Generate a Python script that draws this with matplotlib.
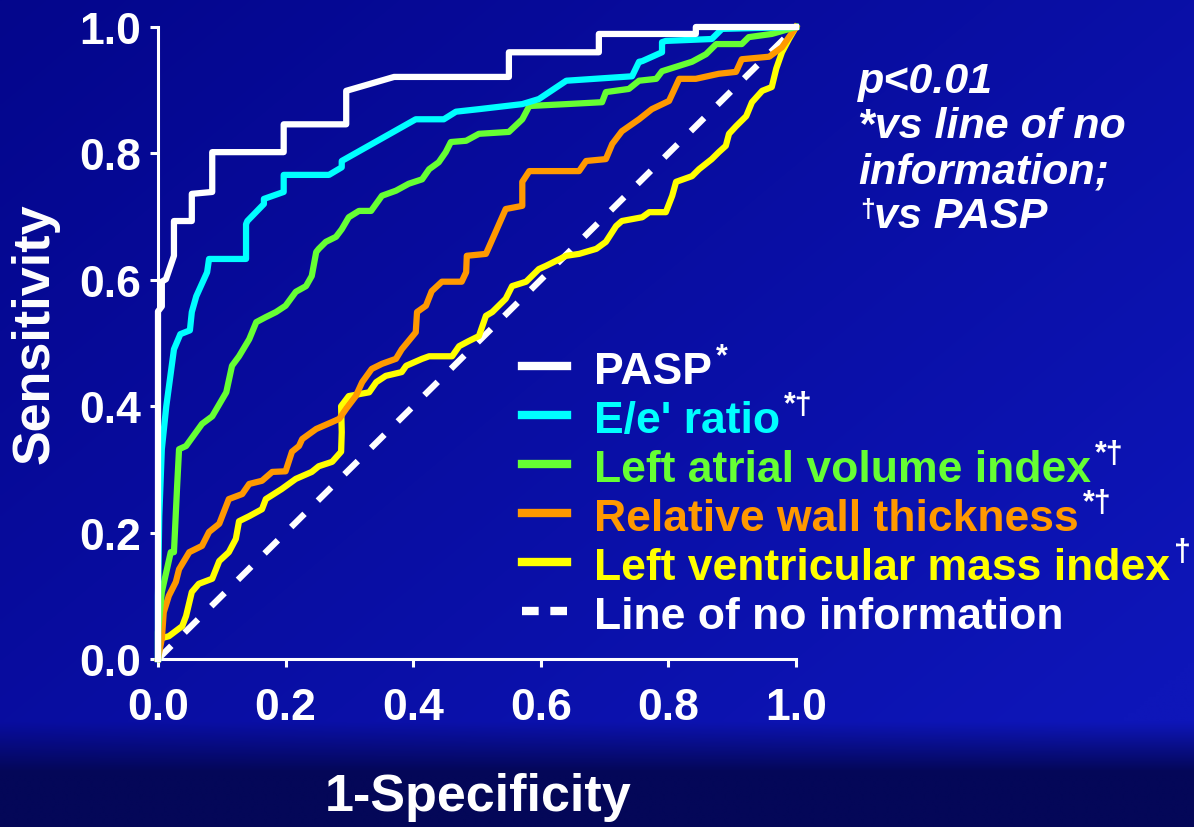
import numpy as np
import matplotlib
matplotlib.use("Agg")
import matplotlib.pyplot as plt
from matplotlib.lines import Line2D

plt.rcParams['font.family'] = ['Liberation Sans', 'DejaVu Sans']
plt.rcParams['font.weight'] = 'bold'

# ROC curves (1-specificity, sensitivity)
pasp_x = [0, 0, 0.006, 0.006, 0.0125, 0.025, 0.025, 0.053, 0.053, 0.085, 0.085, 0.197, 0.197,
          0.295, 0.295, 0.37, 0.503, 0.55, 0.55, 0.691, 0.691, 0.843, 0.843, 1.0]
pasp_y = [0, 0.55, 0.558, 0.597, 0.601, 0.638, 0.693, 0.693, 0.736, 0.739, 0.802, 0.802, 0.846,
          0.846, 0.899, 0.921, 0.921, 0.921, 0.96, 0.96, 0.989, 0.989, 1.0, 1.0]

ee_x = [0, 0.0, 0.002, 0.006, 0.013, 0.025, 0.035, 0.05, 0.053, 0.06, 0.077, 0.08, 0.138, 0.138,
        0.14, 0.166, 0.166, 0.197, 0.197, 0.268, 0.288, 0.288, 0.404, 0.448, 0.467, 0.503, 0.571,
        0.597, 0.64, 0.743, 0.754, 0.759, 0.79, 0.79, 0.796, 0.868, 0.884, 1.0]
ee_y = [0, 0.1, 0.226, 0.332, 0.40, 0.49, 0.514, 0.52, 0.549, 0.574, 0.612, 0.633, 0.633, 0.688,
        0.693, 0.72, 0.728, 0.739, 0.766, 0.766, 0.778, 0.788, 0.854, 0.854, 0.866, 0.870, 0.878,
        0.886, 0.915, 0.922, 0.945, 0.946, 0.96, 0.976, 0.978, 0.981, 0.997, 1.0]

lavi_x = [0, 0, 0.006, 0.02, 0.025, 0.03, 0.033, 0.044, 0.069, 0.085, 0.107, 0.116, 0.127, 0.143,
          0.154, 0.169, 0.185, 0.2, 0.216, 0.232, 0.241, 0.248, 0.252, 0.263, 0.279, 0.288, 0.299,
          0.315, 0.334, 0.351, 0.373, 0.393, 0.414, 0.425, 0.44, 0.451, 0.459, 0.483, 0.503, 0.55,
          0.571, 0.582, 0.64, 0.696, 0.702, 0.738, 0.754, 0.781, 0.79, 0.837, 0.859, 0.875, 0.915,
          0.926, 0.962, 1.0]
lavi_y = [0, 0.043, 0.106, 0.169, 0.169, 0.274, 0.332, 0.337, 0.372, 0.384, 0.422, 0.464, 0.479,
          0.506, 0.533, 0.541, 0.549, 0.559, 0.581, 0.59, 0.606, 0.644, 0.649, 0.66, 0.668, 0.68,
          0.699, 0.709, 0.709, 0.733, 0.741, 0.752, 0.759, 0.775, 0.786, 0.802, 0.818, 0.82, 0.831,
          0.834, 0.854, 0.875, 0.878, 0.881, 0.897, 0.902, 0.915, 0.918, 0.93, 0.945, 0.957, 0.973,
          0.973, 0.984, 0.989, 1.0]

rwt_x = [0, 0.006, 0.009, 0.017, 0.028, 0.033, 0.049, 0.069, 0.08, 0.096, 0.111, 0.132, 0.143,
         0.163, 0.179, 0.2, 0.21, 0.221, 0.226, 0.248, 0.273, 0.284, 0.295, 0.31, 0.32, 0.335,
         0.351, 0.373, 0.382, 0.404, 0.406, 0.42, 0.429, 0.445, 0.476, 0.483, 0.484, 0.514, 0.545,
         0.571, 0.571, 0.582, 0.66, 0.671, 0.702, 0.712, 0.727, 0.754, 0.774, 0.801, 0.817, 0.843,
         0.879, 0.906, 0.915, 0.958, 0.978, 1.0]
rwt_y = [0, 0.032, 0.074, 0.1, 0.122, 0.142, 0.169, 0.179, 0.201, 0.214, 0.253, 0.261, 0.277,
         0.282, 0.296, 0.297, 0.328, 0.337, 0.348, 0.364, 0.375, 0.38, 0.396, 0.416, 0.438, 0.459,
         0.467, 0.475, 0.49, 0.517, 0.549, 0.559, 0.582, 0.597, 0.597, 0.612, 0.638, 0.641, 0.712,
         0.717, 0.755, 0.772, 0.772, 0.788, 0.791, 0.815, 0.835, 0.854, 0.870, 0.883, 0.918, 0.918,
         0.926, 0.929, 0.949, 0.953, 0.968, 1.0]

lvmi_x = [0, 0.002, 0.017, 0.038, 0.044, 0.053, 0.064, 0.085, 0.096, 0.111, 0.122, 0.127, 0.143,
          0.163, 0.169, 0.194, 0.216, 0.241, 0.252, 0.273, 0.287, 0.288, 0.287, 0.299, 0.331, 0.342,
          0.357, 0.382, 0.389, 0.414, 0.425, 0.461, 0.472, 0.487, 0.503, 0.514, 0.524, 0.545, 0.555,
          0.577, 0.597, 0.608, 0.64, 0.66, 0.687, 0.702, 0.718, 0.727, 0.759, 0.77, 0.796, 0.806,
          0.812, 0.837, 0.848, 0.868, 0.879, 0.89, 0.895, 0.906, 0.922, 0.931, 0.947, 0.962, 0.969,
          0.978, 0.989, 1.0]
lvmi_y = [0, 0.032, 0.036, 0.052, 0.068, 0.106, 0.119, 0.127, 0.155, 0.169, 0.19, 0.218, 0.226,
          0.237, 0.253, 0.269, 0.285, 0.296, 0.305, 0.312, 0.328, 0.359, 0.40, 0.416, 0.422, 0.438,
          0.448, 0.454, 0.464, 0.475, 0.479, 0.479, 0.495, 0.503, 0.511, 0.543, 0.549, 0.57, 0.59,
          0.597, 0.617, 0.622, 0.638, 0.641, 0.649, 0.66, 0.685, 0.693, 0.699, 0.707, 0.707, 0.733,
          0.755, 0.764, 0.775, 0.791, 0.802, 0.812, 0.831, 0.843, 0.859, 0.881, 0.899, 0.905, 0.934,
          0.96, 0.981, 1.0]

names = ['PASP', "E/e' ratio", 'Left atrial volume index', 'Relative wall thickness',
         'Left ventricular mass index', 'Line of no information']
marks = ['*', '*†', '*†', '*†', '†', '']
colors = ['white', '#00ffff', '#66ff33', '#ff9900', '#ffff00', 'white']
curves = [(pasp_x, pasp_y), (ee_x, ee_y), (lavi_x, lavi_y), (rwt_x, rwt_y), (lvmi_x, lvmi_y)]
ticks = [0.0, 0.2, 0.4, 0.6, 0.8, 1.0]

W, H = 1194, 828
fig = plt.figure(figsize=(W / 100, H / 100), dpi=100)

# blue slide background
bg = fig.add_axes([0, 0, 1, 1], zorder=-10)
gx = np.linspace(0, 1, 300)[None, :]
gy = np.linspace(0, 1, 200)[:, None]
top = np.array([4, 6, 140]) / 255
right = np.array([14, 22, 185]) / 255
r = np.clip(0.6 * gx + 0.5 * gy, 0, 1)[..., None]
img = top * (1 - r) + right * r
dark = np.array([4, 7, 88]) / 255
band = np.clip((gy - 0.875) / 0.06, 0, 1)[..., None]
img = img * (1 - band) + dark * band
bg.imshow(img, aspect='auto', extent=[0, 1, 1, 0], interpolation='bilinear')
bg.axis('off')

ax = fig.add_axes([158 / W, 1 - 660 / H, 638 / W, 632 / H])
ax.set_facecolor('none')

ax.plot([0, 1], [0, 1], color='white', lw=4.5, ls=(0, (3, 3)), clip_on=False, zorder=2)
for (cx, cy), c in zip(curves[::-1], colors[4::-1]):
    ax.plot(cx, cy, color=c, lw=4.5, clip_on=False, zorder=3)

ax.set_xlim(0, 1)
ax.set_ylim(0, 1)
ax.set_xticks(ticks)
ax.set_yticks(ticks)
ax.set_xticklabels([f'{t:.1f}' for t in ticks])
ax.set_yticklabels([f'{t:.1f}' for t in ticks])
for s in ['top', 'right']:
    ax.spines[s].set_visible(False)
for s in ['left', 'bottom']:
    ax.spines[s].set_color('white')
    ax.spines[s].set_linewidth(2.2)
ax.tick_params(axis='both', direction='out', length=6, width=2.2, colors='white',
               labelsize=32)
ax.tick_params(axis='x', pad=14)
ax.tick_params(axis='y', pad=6)
for lab in ax.get_xticklabels() + ax.get_yticklabels():
    lab.set_fontweight('bold')

fig.text(478 / W, 1 - 798 / H, '1-Specificity', color='white', fontsize=37.5,
         fontweight='bold', ha='center', va='center')
fig.text(35 / W, 1 - 334 / H, 'Sensitivity', color='white', fontsize=37.5,
         fontweight='bold', ha='center', va='center', rotation=90)

# legend drawn by hand so the markers can be white superscripts
for i, (name, mk, c) in enumerate(zip(names, marks, colors)):
    yb = 384 + 49 * i
    yc = yb - 17
    ls = (0, (2.0, 1.4)) if i == 5 else '-'
    fig.add_artist(Line2D([522 / W, 567 / W], [1 - yc / H, 1 - yc / H], color=c, lw=6,
                          ls=ls, transform=fig.transFigure))
    t = fig.text(594 / W, 1 - yb / H, name, color=c, fontsize=32, fontweight='bold',
                 ha='left', va='baseline')
    if mk:
        ax.annotate(mk, xy=(1, 1), xycoords=t, xytext=(3, 7), textcoords='offset points',
                    color='white', fontsize=22, fontweight='bold', ha='left', va='top',
                    annotation_clip=False)

notes = ['p<0.01', '*vs line of no', 'information;']
for i, s in enumerate(notes):
    fig.text(858 / W, 1 - (93 + 45 * i) / H, s, color='white', fontsize=31,
             fontweight='bold', fontstyle='italic', ha='left', va='baseline')
fig.text(860 / W, 1 - 198 / H, '†', color='white', fontsize=19, fontweight='bold',
         ha='left', va='top')
fig.text(874 / W, 1 - 228 / H, 'vs PASP', color='white', fontsize=31,
         fontweight='bold', fontstyle='italic', ha='left', va='baseline')

fig.savefig('out.png', dpi=100, facecolor=fig.get_facecolor())
